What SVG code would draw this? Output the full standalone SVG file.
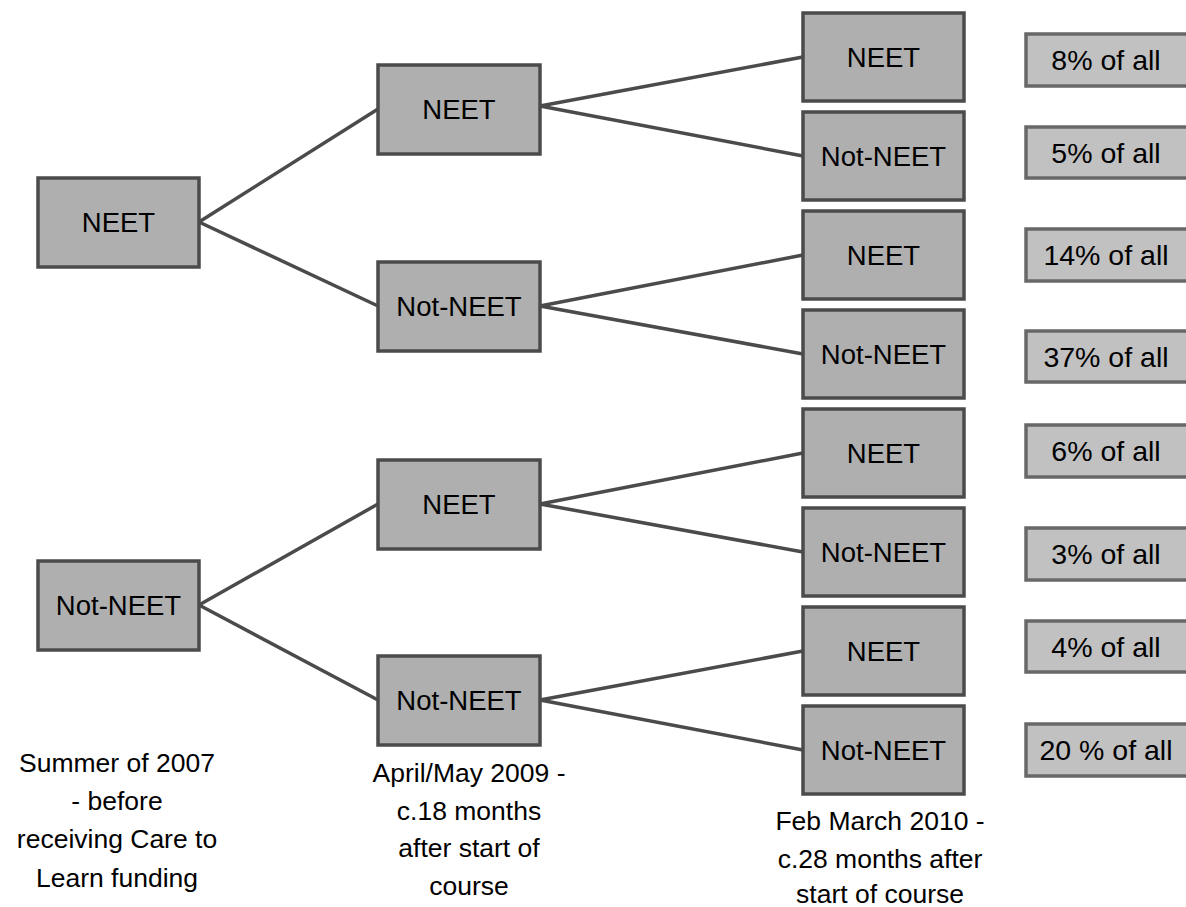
<svg xmlns="http://www.w3.org/2000/svg" width="1186" height="907" viewBox="0 0 1186 907">
<style>
.node rect{fill:#afafaf;stroke:#4b4b4b;stroke-width:3.5;}
.pct rect{fill:#c1c1c1;stroke:#686868;stroke-width:3.5;}
text{font-family:"Liberation Sans",Arial,sans-serif;fill:#000;text-anchor:middle;}
.node text{font-size:27.5px;}
.pct text{font-size:28.5px;}
.cap text{font-size:26.5px;}
#connectors line{stroke:#4b4b4b;stroke-width:3.5;stroke-linecap:round;}
</style>
<rect width="1186" height="907" fill="#fff"/>
<g id="connectors">
<line x1="199" y1="222" x2="378" y2="109"/>
<line x1="199" y1="222" x2="378" y2="306"/>
<line x1="199" y1="605" x2="378" y2="504"/>
<line x1="199" y1="605" x2="378" y2="700"/>
<line x1="540" y1="106" x2="803" y2="57"/>
<line x1="540" y1="106" x2="803" y2="156"/>
<line x1="540" y1="306" x2="803" y2="255"/>
<line x1="540" y1="306" x2="803" y2="354"/>
<line x1="540" y1="504" x2="803" y2="453"/>
<line x1="540" y1="504" x2="803" y2="552"/>
<line x1="540" y1="700" x2="803" y2="651"/>
<line x1="540" y1="700" x2="803" y2="750"/>
</g>
<g id="n1" class="node"><rect x="38" y="178" width="161" height="89"/><text x="118.5" y="232">NEET</text></g>
<g id="n2" class="node"><rect x="38" y="561" width="161" height="89"/><text x="118.5" y="615">Not-NEET</text></g>
<g id="n11" class="node"><rect x="378" y="65" width="162" height="89"/><text x="459" y="119">NEET</text></g>
<g id="n12" class="node"><rect x="378" y="262" width="162" height="89"/><text x="459" y="316">Not-NEET</text></g>
<g id="n21" class="node"><rect x="378" y="460" width="162" height="89"/><text x="459" y="514">NEET</text></g>
<g id="n22" class="node"><rect x="378" y="656" width="162" height="89"/><text x="459" y="710">Not-NEET</text></g>
<g id="n111" class="node"><rect x="803" y="13" width="161" height="88"/><text x="883.5" y="67">NEET</text></g>
<g id="n112" class="node"><rect x="803" y="112" width="161" height="88"/><text x="883.5" y="166">Not-NEET</text></g>
<g id="n121" class="node"><rect x="803" y="211" width="161" height="88"/><text x="883.5" y="265">NEET</text></g>
<g id="n122" class="node"><rect x="803" y="310" width="161" height="88"/><text x="883.5" y="364">Not-NEET</text></g>
<g id="n211" class="node"><rect x="803" y="409" width="161" height="88"/><text x="883.5" y="463">NEET</text></g>
<g id="n212" class="node"><rect x="803" y="508" width="161" height="88"/><text x="883.5" y="562">Not-NEET</text></g>
<g id="n221" class="node"><rect x="803" y="607" width="161" height="88"/><text x="883.5" y="661">NEET</text></g>
<g id="n222" class="node"><rect x="803" y="706" width="161" height="88"/><text x="883.5" y="760">Not-NEET</text></g>
<g id="p1" class="pct"><rect x="1026" y="34" width="162" height="52"/><text x="1106" y="70">8% of all</text></g>
<g id="p2" class="pct"><rect x="1026" y="127" width="162" height="51"/><text x="1106" y="162.5">5% of all</text></g>
<g id="p3" class="pct"><rect x="1026" y="229" width="162" height="52"/><text x="1106" y="265">14% of all</text></g>
<g id="p4" class="pct"><rect x="1026" y="331" width="162" height="51"/><text x="1106" y="366.5">37% of all</text></g>
<g id="p5" class="pct"><rect x="1026" y="425" width="162" height="52"/><text x="1106" y="461">6% of all</text></g>
<g id="p6" class="pct"><rect x="1026" y="528" width="162" height="52"/><text x="1106" y="564">3% of all</text></g>
<g id="p7" class="pct"><rect x="1026" y="621" width="162" height="51"/><text x="1106" y="656.5">4% of all</text></g>
<g id="p8" class="pct"><rect x="1026" y="724" width="162" height="52"/><text x="1106" y="760">20 % of all</text></g>
<g id="cap1" class="cap"><text x="117" y="772">Summer of 2007</text><text x="117" y="810">- before</text><text x="117" y="848">receiving Care to</text><text x="117" y="887">Learn funding</text></g>
<g id="cap2" class="cap"><text x="469" y="782">April/May 2009 -</text><text x="469" y="820">c.18 months</text><text x="469" y="857">after start of</text><text x="469" y="895">course</text></g>
<g id="cap3" class="cap"><text x="880" y="830">Feb March 2010 -</text><text x="880" y="868">c.28 months after</text><text x="880" y="903">start of course</text></g>
</svg>
